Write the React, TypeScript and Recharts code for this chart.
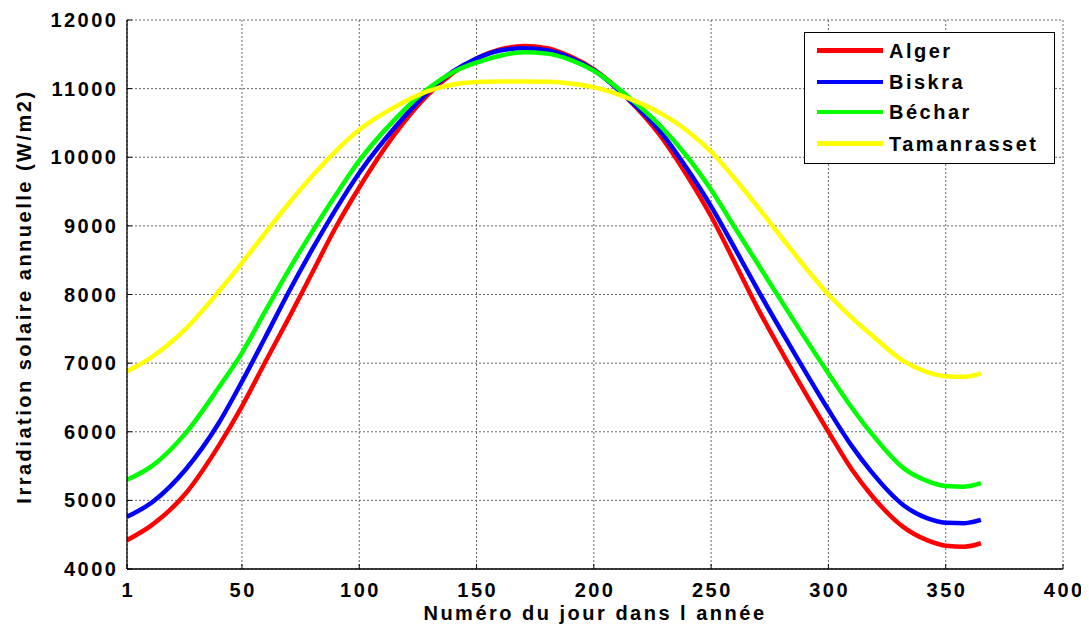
import React from 'react';
import { LineChart, Line, XAxis, YAxis, CartesianGrid, Label } from 'recharts';

// Day of year sampled
const days = [1, 12, 26, 40, 50, 60, 70, 80, 90, 100, 115, 129, 140, 150, 160, 170, 180, 190, 200, 214, 228, 240, 250, 260, 270, 283, 300, 310, 318, 332, 342, 350, 358, 365];

// Annual solar irradiation (W/m2) for each site
const alger = [4420, 4650, 5100, 5790, 6370, 7020, 7660, 8320, 8980, 9560, 10330, 10900, 11230, 11440, 11570, 11620, 11590, 11470, 11280, 10870, 10330, 9720, 9140, 8470, 7790, 6990, 6000, 5450, 5090, 4610, 4420, 4340, 4325, 4375];
const biskra = [4760, 4980, 5450, 6120, 6730, 7380, 8040, 8660, 9240, 9770, 10425, 10940, 11250, 11440, 11555, 11590, 11560, 11450, 11270, 10870, 10390, 9820, 9285, 8680, 8060, 7290, 6320, 5790, 5430, 4930, 4740, 4675, 4668, 4715];
const bechar = [5300, 5510, 5980, 6640, 7150, 7760, 8360, 8920, 9450, 9950, 10545, 10990, 11240, 11380, 11480, 11530, 11510, 11420, 11260, 10900, 10470, 10000, 9525, 8980, 8440, 7740, 6850, 6350, 5990, 5470, 5285, 5210, 5200, 5250];
const tamanrasset = [6876, 7100, 7500, 8040, 8460, 8900, 9330, 9730, 10090, 10400, 10730, 10960, 11060, 11095, 11105, 11105, 11100, 11075, 11020, 10870, 10650, 10380, 10080, 9690, 9270, 8700, 8000, 7660, 7420, 7030, 6870, 6810, 6800, 6850];

const xTicks = [1, 50, 100, 150, 200, 250, 300, 350, 400];
const yTicks = [4000, 5000, 6000, 7000, 8000, 9000, 10000, 11000, 12000];

const seriesKeys = ['alger', 'biskra', 'bechar', 'tamanrasset'];
const seriesNames = ['Alger', 'Biskra', 'Béchar', 'Tamanrasset'];
const seriesColors = ['#ff0000', '#0000ff', '#00ff00', '#ffff00'];

const xLabel = 'Numéro du jour dans l année';
const yLabel = 'Irradiation solaire annuelle (W/m2)';

const data = days.map((d, i) => ({
  day: d,
  alger: alger[i],
  biskra: biskra[i],
  bechar: bechar[i],
  tamanrasset: tamanrasset[i],
}));

const FONT = '"Liberation Sans", Arial, Helvetica, sans-serif';
const LS = 2.5;

const W = 1081;
const H = 626;
const MARGIN = { top: 12, right: 26, bottom: 35, left: 59 };

function YTick(props: any) {
  const { x, y, payload } = props;
  return (
    <text x={x} y={y} dy="0.355em" textAnchor="end" fill="#000" fontSize={20} fontWeight="bold" fontFamily={FONT} letterSpacing={LS}>
      {payload.value}
    </text>
  );
}

function XTick(props: any) {
  const { x, y, payload } = props;
  return (
    <text x={x + LS / 2} y={y} dy="0.71em" textAnchor="middle" fill="#000" fontSize={20} fontWeight="bold" fontFamily={FONT} letterSpacing={LS}>
      {payload.value}
    </text>
  );
}

export default function App() {
  return (
    <div style={{ position: 'relative', width: W, height: H, background: '#fff' }}>
      <LineChart width={W} height={H} data={data} margin={MARGIN}>
        <CartesianGrid stroke="#666" strokeDasharray="2 2" strokeWidth={1} />
        <XAxis
          dataKey="day"
          type="number"
          domain={[1, 400]}
          ticks={xTicks}
          interval={0}
          allowDataOverflow
          height={30}
          tickSize={-5}
          tickMargin={18.5}
          tick={(p: any) => <XTick {...p} />}
          axisLine={{ stroke: '#000', strokeWidth: 1.3 }}
          tickLine={{ stroke: '#000', strokeWidth: 1 }}
        >
          <Label
            content={(p: any) => {
              const vb = p.viewBox || { x: 119, y: 561, width: 936, height: 30 };
              const cx = vb.x + vb.width / 2;
              const cy = vb.y + 51;
              return (
                <text x={cx} y={cy} textAnchor="middle" fill="#000" fontSize={20} fontWeight="bold" fontFamily={FONT} letterSpacing={LS}>
                  {xLabel}
                </text>
              );
            }}
          />
        </XAxis>
        <XAxis
          xAxisId="top"
          orientation="top"
          type="number"
          domain={[1, 400]}
          ticks={xTicks}
          interval={0}
          allowDataOverflow
          height={0}
          tickSize={-5}
          tick={false}
          axisLine={{ stroke: '#000', strokeWidth: 1.3 }}
          tickLine={{ stroke: '#000', strokeWidth: 1 }}
        />
        <YAxis
          type="number"
          domain={[4000, 12000]}
          ticks={yTicks}
          interval={0}
          allowDataOverflow
          width={60}
          tickSize={-5}
          tickMargin={13.5}
          tick={(p: any) => <YTick {...p} />}
          axisLine={{ stroke: '#000', strokeWidth: 1.3 }}
          tickLine={{ stroke: '#000', strokeWidth: 1 }}
        >
          <Label
            content={(p: any) => {
              const vb = p.viewBox || { x: 59, y: 12, width: 60, height: 549 };
              const cx = vb.x - 36.5;
              const cy = vb.y + vb.height / 2 + 2;
              return (
                <text x={cx} y={cy} transform={`rotate(-90 ${cx} ${cy})`} textAnchor="middle" fill="#000" fontSize={20} fontWeight="bold" fontFamily={FONT} letterSpacing={LS}>
                  {yLabel}
                </text>
              );
            }}
          />
        </YAxis>
        <YAxis
          yAxisId="right"
          orientation="right"
          type="number"
          domain={[4000, 12000]}
          ticks={yTicks}
          interval={0}
          allowDataOverflow
          width={0}
          tickSize={-5}
          tick={false}
          axisLine={{ stroke: '#000', strokeWidth: 1.3 }}
          tickLine={{ stroke: '#000', strokeWidth: 1 }}
        />
        {seriesKeys.map((k, i) => (
          <Line
            key={k}
            dataKey={k}
            name={seriesNames[i]}
            type="monotone"
            stroke={seriesColors[i]}
            strokeWidth={4.5}
            dot={false}
            activeDot={false}
            isAnimationActive={false}
          />
        ))}
      </LineChart>
      <div
        style={{
          position: 'absolute',
          left: 796,
          top: 24,
          width: 251,
          height: 132,
          border: '1px solid #000',
          boxSizing: 'border-box',
          background: '#fff',
        }}
      >
        {seriesNames.map((n, i) => {
          const centers = [17, 48.7, 78.7, 110.3];
          const c = centers[i];
          return (
            <React.Fragment key={n}>
              <div style={{ position: 'absolute', left: 12, top: c - 2, width: 66, height: 4.5, background: seriesColors[i] }} />
              <div
                style={{
                  position: 'absolute',
                  left: 84,
                  top: c - 9.3,
                  lineHeight: '20px',
                  fontSize: 20,
                  fontWeight: 'bold',
                  fontFamily: FONT,
                  letterSpacing: LS,
                  color: '#000',
                  whiteSpace: 'nowrap',
                }}
              >
                {n}
              </div>
            </React.Fragment>
          );
        })}
      </div>
    </div>
  );
}
